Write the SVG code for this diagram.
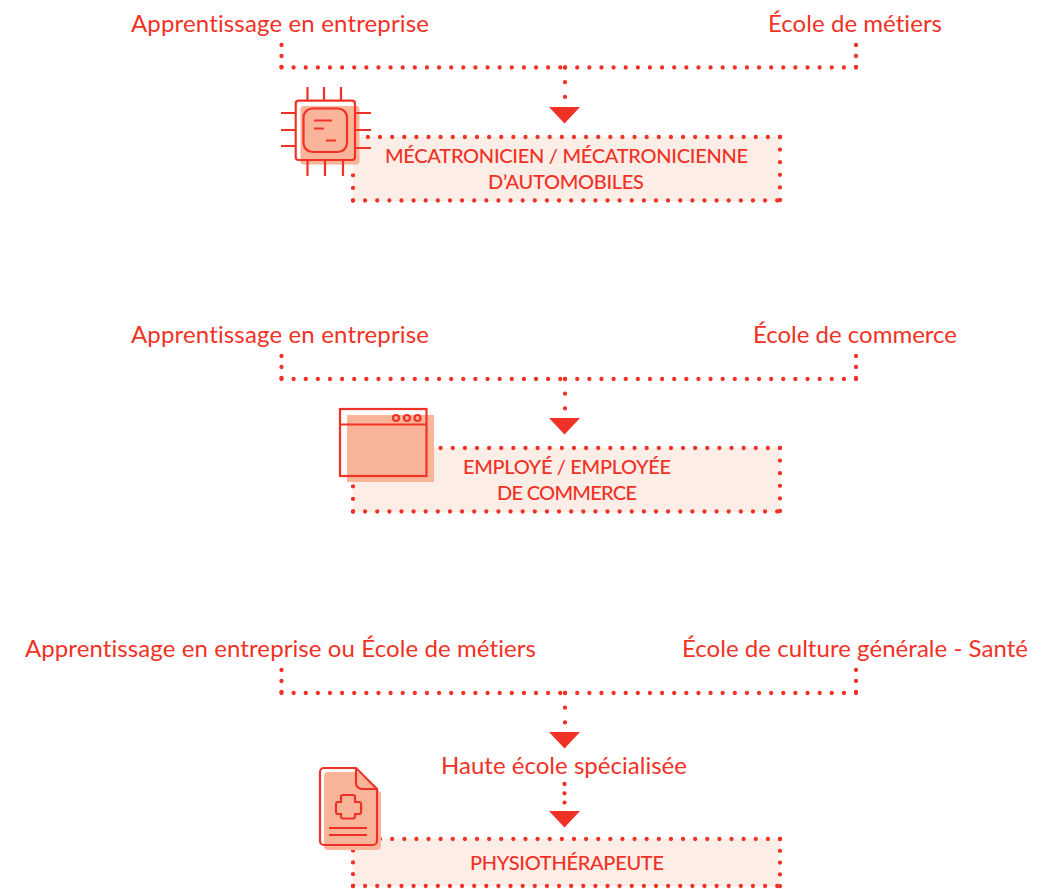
<svg xmlns="http://www.w3.org/2000/svg" width="1055" height="889" viewBox="0 0 1055 889">
<style>
text{font-family:"Lato","Open Sans",sans-serif;fill:#f03226;font-variant-ligatures:none}
.l{font-size:24px}
.b{font-size:20px;font-weight:500}
.d{fill:none;stroke:#f03226;stroke-width:4.300;stroke-linecap:round}
.h{stroke-dasharray:0 12.12}
.a{fill:#f03226;stroke:none}
.box{fill:#fcede6}
.s{fill:#fab49a}
.o{fill:none;stroke:#f03226;stroke-width:2.200}
</style>
<rect width="1055" height="889" fill="#fff"/>
<g id="connectors">
<path class="d h" d="M281.500 67.500H565M856 67.500H565"/>
<path class="d" stroke-dasharray="0 11" d="M281.500 45V67.500M856 45V67.500"/>
<path class="d" stroke-dasharray="0 14.700" d="M565 67.500V98"/>
<path class="a" d="M549 107H580L564.500 123.500Z"/>
<path class="d h" d="M281.500 379H565M856 379H565"/>
<path class="d" stroke-dasharray="0 11" d="M281.500 356V379M856 356V379"/>
<path class="d" stroke-dasharray="0 14.700" d="M565 379V409"/>
<path class="a" d="M549 418H580L564.500 434.500Z"/>
<path class="d h" d="M281.500 693H565M856 693H565"/>
<path class="d" stroke-dasharray="0 11" d="M281.500 670V693M856 670V693"/>
<path class="d" stroke-dasharray="0 14.700" d="M565 693V723"/>
<path class="a" d="M549 732H580L564.500 748.500Z"/>
<path class="d" stroke-dasharray="0 9.300" d="M564.500 784V804"/>
<path class="a" d="M549 811H580L564.500 827.500Z"/>
</g>
<g id="labels-1">
<text class="l" x="131" y="32" textLength="298">Apprentissage en entreprise</text>
<text class="l" x="768" y="32" textLength="174">École de métiers</text>
</g>
<g id="node-mecatronicien">
<rect class="box" x="353" y="137" width="427" height="64"/>
<path class="d h" d="M780 137H356M353 200.500H780"/>
<path class="d" stroke-dasharray="0 12.600" d="M780 137V201M353 200.500V175"/>
<text class="b" x="385" y="163" textLength="363">MÉCATRONICIEN / MÉCATRONICIENNE</text>
<text class="b" x="488" y="189" textLength="156">D’AUTOMOBILES</text>
<g id="icon-chip">
<rect class="s" x="300.500" y="106" width="59" height="58.500" rx="3"/>
<rect class="o" x="295.700" y="100.700" width="59.300" height="59.300" rx="3"/>
<rect class="o" x="303.500" y="108.500" width="43.500" height="43.500" rx="9"/>
<path class="o" d="M307.500 87V100M324 87V100M341 87V100M307.500 160V176M325 160V176M343 160V176M281 113H295M281 130H295M281 146H295M355 113H371M355 130H371M355 148H371M314 120.500H332M314 128.500H324M326 140.500H336"/>
</g>
</g>
<g id="labels-2">
<text class="l" x="131" y="343" textLength="298">Apprentissage en entreprise</text>
<text class="l" x="753" y="343" textLength="204">École de commerce</text>
</g>
<g id="node-employe">
<rect class="box" x="353" y="448" width="427" height="64"/>
<path class="d h" d="M780 448H430M353 511.500H780"/>
<path class="d" stroke-dasharray="0 12.600" d="M780 448V512M353 511.500V486"/>
<text class="b" x="463" y="474" textLength="208">EMPLOYÉ / EMPLOYÉE</text>
<text class="b" x="497" y="500" textLength="140">DE COMMERCE</text>
<g id="icon-window">
<rect class="s" x="347" y="415" width="87" height="67"/>
<rect class="o" x="340" y="409" width="86.500" height="67"/>
<path class="o" d="M340 424.500H426.500"/>
<circle class="o" cx="396" cy="418" r="3"/><circle class="o" cx="407" cy="418" r="3"/><circle class="o" cx="417.500" cy="418" r="3"/>
</g>
</g>
<g id="labels-3">
<text class="l" x="25" y="657" textLength="511">Apprentissage en entreprise ou École de métiers</text>
<text class="l" x="682" y="657" textLength="346">École de culture générale - Santé</text>
<text class="l" x="441" y="774" textLength="246">Haute école spécialisée</text>
</g>
<g id="node-physio">
<rect class="box" x="353" y="839" width="427" height="47"/>
<path class="d h" d="M780 839H376M353 886H780"/>
<path class="d" stroke-dasharray="0 11.800" d="M780 839V887M353 886V850"/>
<text class="b" x="470" y="870" textLength="194">PHYSIOTHÉRAPEUTE</text>
<g id="icon-doc">
<path class="s" d="M328 772H358L381 793V846a4 4 0 0 1-4 4H328a4 4 0 0 1-4-4V776a4 4 0 0 1 4-4Z"/>
<path class="o" d="M324 768H356L377 789V841a4 4 0 0 1-4 4H324a4 4 0 0 1-4-4V772a4 4 0 0 1 4-4Z"/>
<path class="o" d="M356 768V783a6 6 0 0 0 6 6H377"/>
<path class="o" d="M343 795H353a2 2 0 0 1 2 2V802H359a2 2 0 0 1 2 2V812a2 2 0 0 1-2 2H355V816.500a2 2 0 0 1-2 2H343a2 2 0 0 1-2-2V814H338a2 2 0 0 1-2-2V804a2 2 0 0 1 2-2H341V797a2 2 0 0 1 2-2Z"/>
<path class="o" d="M329 828H367M329 835H367"/>
</g>
</g>
</svg>
